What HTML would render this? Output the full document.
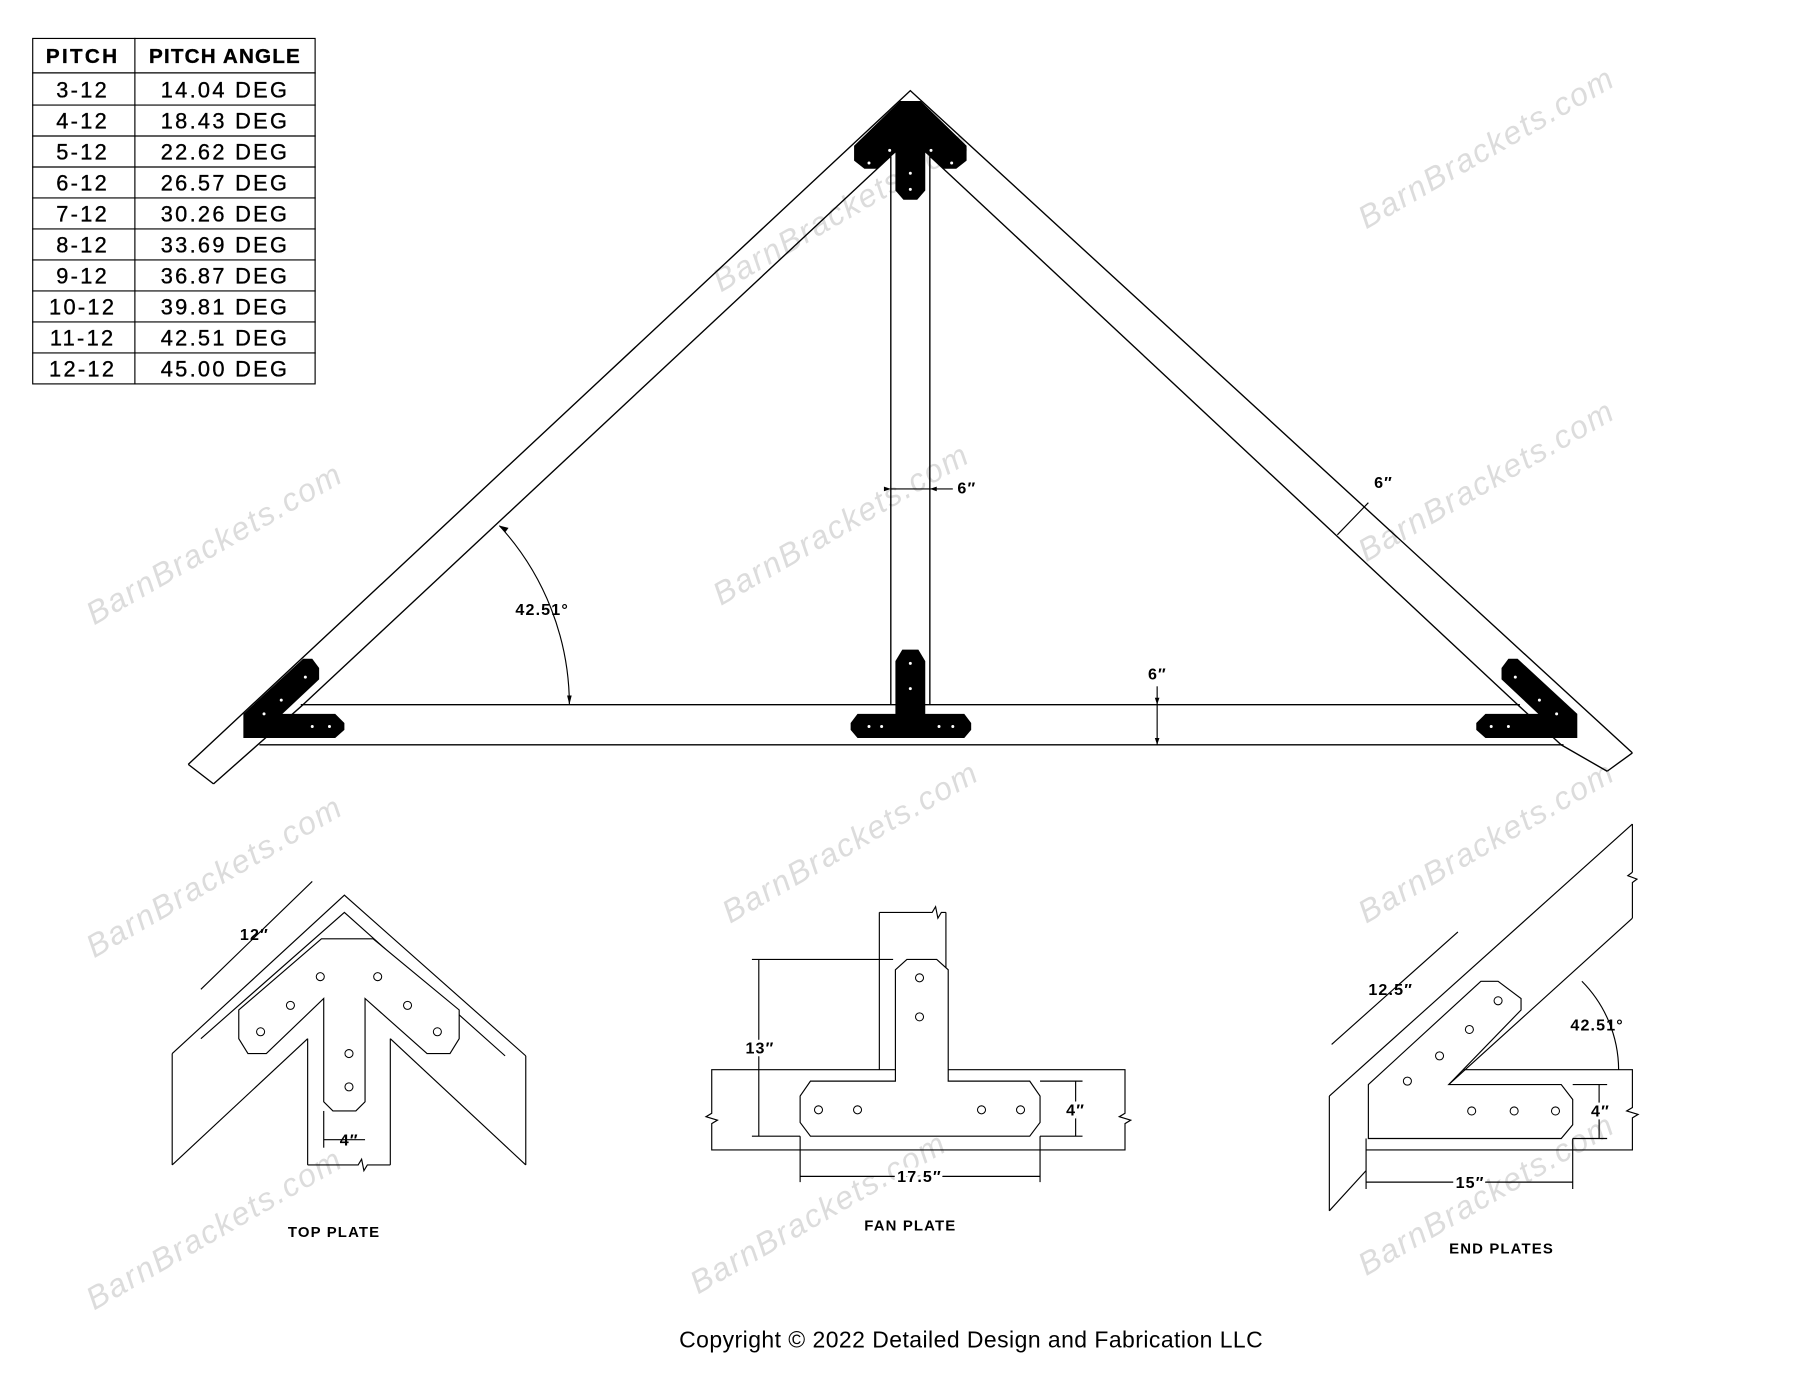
<!DOCTYPE html>
<html><head><meta charset="utf-8"><style>
html,body{margin:0;padding:0;background:#fff;}
svg{display:block;}
text{font-family:"Liberation Sans",sans-serif;}
.wm{font-size:28px;fill:#dcdcdc;font-style:italic;letter-spacing:1.5px;}
.t{font-size:19px;letter-spacing:2px;fill:#000;stroke:#000;stroke-width:0.3;}
.d{font-size:14px;font-weight:bold;letter-spacing:1px;fill:#000;}
</style></head><body>
<svg width="1800" height="1391" viewBox="0 0 1568 1212" preserveAspectRatio="none">
<rect width="1568" height="1212" fill="#fff"/>
<g class="wm">
<text transform="translate(1190,200) rotate(-30)">BarnBrackets.com</text>
<text transform="translate(628,255) rotate(-30)">BarnBrackets.com</text>
<text transform="translate(1190,490) rotate(-30)">BarnBrackets.com</text>
<text transform="translate(628,528) rotate(-30)">BarnBrackets.com</text>
<text transform="translate(82,545) rotate(-30)">BarnBrackets.com</text>
<text transform="translate(82,835) rotate(-30)">BarnBrackets.com</text>
<text transform="translate(636,805) rotate(-30)">BarnBrackets.com</text>
<text transform="translate(1190,805) rotate(-30)">BarnBrackets.com</text>
<text transform="translate(82,1142) rotate(-30)">BarnBrackets.com</text>
<text transform="translate(608,1128) rotate(-30)">BarnBrackets.com</text>
<text transform="translate(1190,1112) rotate(-30)">BarnBrackets.com</text>
</g>
<g stroke="#000" stroke-width="1" fill="none">
<rect x="28.5" y="33.5" width="246" height="301"/>
<line x1="117.5" y1="33" x2="117.5" y2="335"/>
<line x1="28" y1="63.5" x2="275" y2="63.5"/>
<line x1="28" y1="91.5" x2="275" y2="91.5"/><line x1="28" y1="118.5" x2="275" y2="118.5"/>
<line x1="28" y1="145.5" x2="275" y2="145.5"/><line x1="28" y1="172.5" x2="275" y2="172.5"/>
<line x1="28" y1="199.5" x2="275" y2="199.5"/><line x1="28" y1="226.5" x2="275" y2="226.5"/>
<line x1="28" y1="253.5" x2="275" y2="253.5"/><line x1="28" y1="280.5" x2="275" y2="280.5"/>
<line x1="28" y1="307.5" x2="275" y2="307.5"/>
</g>
<g class="t" text-anchor="middle">
<text x="72" y="55" font-weight="bold" font-size="18">PITCH</text><text x="196" y="55" font-weight="bold" font-size="18" letter-spacing="1">PITCH ANGLE</text>
<text x="72" y="85">3-12</text><text x="196" y="85">14.04 DEG</text>
<text x="72" y="112">4-12</text><text x="196" y="112">18.43 DEG</text>
<text x="72" y="139">5-12</text><text x="196" y="139">22.62 DEG</text>
<text x="72" y="166">6-12</text><text x="196" y="166">26.57 DEG</text>
<text x="72" y="193">7-12</text><text x="196" y="193">30.26 DEG</text>
<text x="72" y="220">8-12</text><text x="196" y="220">33.69 DEG</text>
<text x="72" y="247">9-12</text><text x="196" y="247">36.87 DEG</text>
<text x="72" y="274">10-12</text><text x="196" y="274">39.81 DEG</text>
<text x="72" y="301">11-12</text><text x="196" y="301">42.51 DEG</text>
<text x="72" y="328">12-12</text><text x="196" y="328">45.00 DEG</text>
</g>
<g stroke="#000" stroke-width="1.2" fill="none">
<polyline points="164,666 793,79 1422,656"/>
<line x1="164" y1="666" x2="186" y2="683"/>
<line x1="1422" y1="656" x2="1400" y2="672"/>
<line x1="186" y1="683" x2="264" y2="614"/>
<line x1="264" y1="614" x2="776" y2="136"/>
<line x1="810" y1="136" x2="1322" y2="614"/>
<line x1="1360" y1="649" x2="1400" y2="672"/>
<line x1="1322" y1="614" x2="1360" y2="649"/>
<line x1="226" y1="649" x2="1362" y2="649"/>
<line x1="262" y1="614" x2="1324" y2="614"/>
<line x1="776" y1="136" x2="776" y2="614"/>
<line x1="810" y1="136" x2="810" y2="614"/>
</g>
<g fill="#000">
<polygon points="744,127 784,88 802,88 842,127 842,140 833,147 822,147 806,133 806,166 799,174 787,174 780,166 780,133 764,147 753,147 744,140"/>
<polygon points="786,566 800,566 806,576 806,622 840,622 846,630 846,636 840,643 747,643 741,636 741,630 747,622 780,622 780,576"/>
<polygon points="212,622 264,574 272,574 278,582 278,592 246,622 292,622 300,630 300,636 292,643 212,643"/>
<polygon points="1374,622 1322,574 1314,574 1308,582 1308,592 1340,622 1294,622 1286,630 1286,636 1294,643 1374,643"/>
</g>
<g fill="#fff">
<circle cx="775" cy="131" r="1.3"/><circle cx="811" cy="131" r="1.3"/><circle cx="757" cy="142" r="1.3"/><circle cx="829" cy="142" r="1.3"/><circle cx="793" cy="151" r="1.3"/><circle cx="793" cy="165" r="1.3"/>
<circle cx="793" cy="578" r="1.3"/><circle cx="793" cy="600" r="1.3"/><circle cx="757" cy="633" r="1.3"/><circle cx="768" cy="633" r="1.3"/><circle cx="818" cy="633" r="1.3"/><circle cx="830" cy="633" r="1.3"/>
<circle cx="266" cy="590" r="1.3"/><circle cx="245" cy="610" r="1.3"/><circle cx="230" cy="622" r="1.3"/><circle cx="272" cy="633" r="1.3"/><circle cx="287" cy="633" r="1.3"/>
<circle cx="1320" cy="590" r="1.3"/><circle cx="1341" cy="610" r="1.3"/><circle cx="1356" cy="622" r="1.3"/><circle cx="1314" cy="633" r="1.3"/><circle cx="1299" cy="633" r="1.3"/>
</g>
<g stroke="#000" stroke-width="1" fill="none">
<line x1="776" y1="426" x2="830" y2="426"/>
<line x1="1165" y1="466" x2="1192" y2="438"/>
<line x1="1008" y1="598" x2="1008" y2="649"/>
<path d="M435,458 A232,232 0 0 1 496,614"/>
</g>
<g fill="#000">
<polygon points="776,426 770,424 770,428"/><polygon points="810,426 816,424 816,428"/>
<polygon points="1008,614 1006,608 1010,608"/><polygon points="1008,649 1006,643 1010,643"/>
<polygon points="496,614 494,606 498,606"/><polygon points="435,458 443,460 440,464"/>
</g>
<g class="d">
<text x="834" y="430">6″</text>
<text x="1197" y="425">6″</text>
<text x="1000" y="592">6″</text>
<text x="449" y="536">42.51°</text>
</g>
<g stroke="#000" stroke-width="1" fill="none">
<polyline points="150,918 300,780 458,920"/>
<polyline points="175,905 300,795 440,920"/>
<line x1="150" y1="918" x2="150" y2="1015"/>
<line x1="458" y1="920" x2="458" y2="1015"/>
<line x1="150" y1="1015" x2="268" y2="905"/>
<line x1="340" y1="905" x2="458" y2="1015"/>
<line x1="268" y1="905" x2="268" y2="1015"/>
<line x1="340" y1="905" x2="340" y2="1015"/>
<path d="M268,1015 H312 l3,-5 l2,10 l3,-5 H340"/>
<polygon points="208,880 280,818 325,818 400,880 400,905 392,918 372,918 318,870 318,960 310,968 290,968 282,960 282,870 232,918 216,918 208,905" fill="#fff"/>
<line x1="175" y1="862" x2="272" y2="768"/>
<line x1="282" y1="993" x2="318" y2="993"/>
<line x1="282" y1="968" x2="282" y2="1000"/>
</g>
<g fill="none" stroke="#000" stroke-width="0.9">
<circle cx="279" cy="851" r="3.5"/><circle cx="329" cy="851" r="3.5"/><circle cx="253" cy="876" r="3.5"/><circle cx="355" cy="876" r="3.5"/><circle cx="227" cy="899" r="3.5"/><circle cx="381" cy="899" r="3.5"/><circle cx="304" cy="918" r="3.5"/><circle cx="304" cy="947" r="3.5"/>
</g>
<g class="d"><text x="209" y="819">12″</text><text x="296" y="998">4″</text><text x="291" y="1078" text-anchor="middle" font-size="13">TOP PLATE</text></g>
<g stroke="#000" stroke-width="1" fill="none">
<line x1="766" y1="795" x2="766" y2="932"/>
<line x1="824" y1="795" x2="824" y2="932"/>
<path d="M766,795 H812 l3,-5 l2,10 l3,-5 H824"/>
<path d="M620,932 H980 V970 l-5,3 l10,3 l-5,3 V1002 H620 V979 l5,-3 l-10,-3 l5,-3 Z"/>
<polygon points="780,845 790,836 816,836 826,845 826,942 897,942 906,955 906,978 897,990 706,990 697,978 697,955 706,942 780,942" fill="#fff"/>
<line x1="661" y1="836" x2="661" y2="990"/>
<line x1="655" y1="836" x2="778" y2="836"/>
<line x1="655" y1="990" x2="697" y2="990"/>
<line x1="937" y1="942" x2="937" y2="990"/>
<line x1="906" y1="942" x2="943" y2="942"/><line x1="906" y1="990" x2="943" y2="990"/>
<line x1="697" y1="990" x2="697" y2="1030"/><line x1="906" y1="990" x2="906" y2="1030"/>
<line x1="697" y1="1025" x2="906" y2="1025"/>
</g>
<g fill="none" stroke="#000" stroke-width="0.9">
<circle cx="801" cy="852" r="3.5"/><circle cx="801" cy="886" r="3.5"/><circle cx="713" cy="967" r="3.5"/><circle cx="747" cy="967" r="3.5"/><circle cx="855" cy="967" r="3.5"/><circle cx="889" cy="967" r="3.5"/>
</g>
<g class="d" text-anchor="middle"><text x="662" y="918" stroke="#fff" stroke-width="5" style="paint-order:stroke">13″</text><text x="937" y="972" stroke="#fff" stroke-width="5" style="paint-order:stroke">4″</text><text x="801" y="1030" stroke="#fff" stroke-width="6" style="paint-order:stroke">17.5″</text><text x="793" y="1072" font-size="13">FAN PLATE</text></g>
<g stroke="#000" stroke-width="1" fill="none">
<line x1="1158" y1="955" x2="1422" y2="718"/>
<line x1="1262" y1="945" x2="1422" y2="800"/>
<line x1="1158" y1="955" x2="1158" y2="1055"/>
<line x1="1158" y1="1055" x2="1190" y2="1020"/>
<line x1="1422" y1="718" x2="1422" y2="760"/>
<path d="M1422,760 l-4,3 l8,3 l-4,3 V800"/>
<path d="M1270,932 H1422 V965 l-5,3 l10,3 l-5,3 V1002 H1190"/>
<polygon points="1192,945 1290,855 1305,855 1325,870 1325,880 1262,945 1360,945 1370,958 1370,980 1360,992 1192,992" fill="#fff"/>
<line x1="1160" y1="910" x2="1270" y2="812"/>
<line x1="1393" y1="945" x2="1393" y2="992"/>
<line x1="1370" y1="945" x2="1400" y2="945"/><line x1="1370" y1="992" x2="1400" y2="992"/>
<line x1="1190" y1="1030" x2="1370" y2="1030"/>
<line x1="1190" y1="992" x2="1190" y2="1036"/><line x1="1370" y1="992" x2="1370" y2="1036"/>
<path d="M1378,855 A110,110 0 0 1 1410,932"/>
</g>
<g fill="none" stroke="#000" stroke-width="0.9">
<circle cx="1305" cy="872" r="3.5"/><circle cx="1280" cy="897" r="3.5"/><circle cx="1254" cy="920" r="3.5"/><circle cx="1226" cy="942" r="3.5"/><circle cx="1282" cy="968" r="3.5"/><circle cx="1319" cy="968" r="3.5"/><circle cx="1355" cy="968" r="3.5"/>
</g>
<g class="d"><text x="1192" y="867">12.5″</text><text x="1368" y="898">42.51°</text><text x="1386" y="973" stroke="#fff" stroke-width="5" style="paint-order:stroke">4″</text><text x="1268" y="1035" stroke="#fff" stroke-width="6" style="paint-order:stroke">15″</text><text x="1308" y="1092" text-anchor="middle" font-size="13">END PLATES</text></g>
<text x="846" y="1174" text-anchor="middle" font-size="20" letter-spacing="0.4" fill="#000">Copyright © 2022 Detailed Design and Fabrication LLC</text>
</svg>
</body></html>
